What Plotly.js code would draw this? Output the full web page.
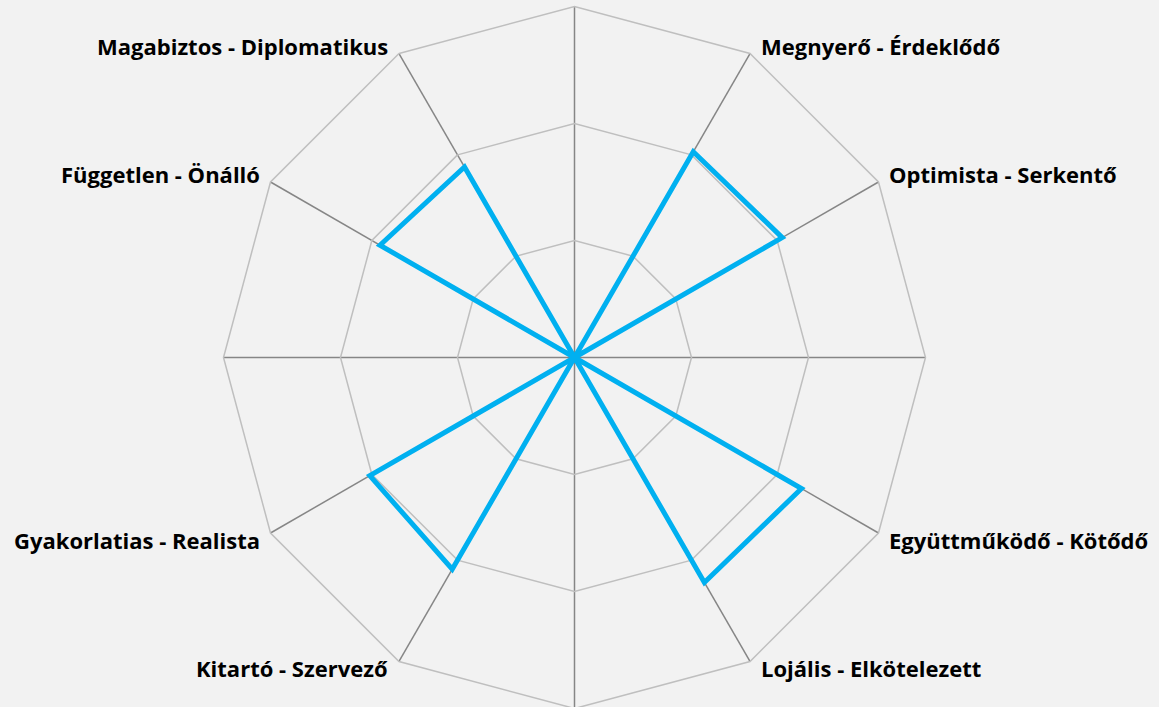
<!DOCTYPE html>
<html>
<head>
<meta charset="utf-8">
<script src="https://cdn.plot.ly/plotly-3.0.1.min.js"></script>
<style>
html,body{margin:0;padding:0;background:#f2f2f2;overflow:hidden;}
#chart{width:1159px;height:709px;}
</style>
</head>
<body>
<div id="chart"></div>
<script>
// Axis labels (cardinal spokes carry no label)
const axisLabels = ['', 'Megnyerő - Érdeklődő', 'Optimista - Serkentő', '', 'Együttműködő - Kötődő', 'Lojális - Elkötelezett', '', 'Kitartó - Szervező', 'Gyakorlatias - Realista', '', 'Független - Önálló', 'Magabiztos - Diplomatikus'];
// Series values
const values = [0, 2.03, 2.05, 0, 2.24, 2.22, 0, 2.09, 2.02, 0, 1.92, 1.88];
// Radial grid levels
const radialTicks = [1, 2, 3];

const W = 1159, H = 709;
const cx = 574.5, cy = 357.5, R = 351;   // polar area geometry (pixels)

const keys = axisLabels.map((l, i) => 'k' + i);
const thetaClosed = keys.concat([keys[0]]);
const rClosed = values.concat([values[0]]);

const trace = {
  type: 'scatterpolar',
  mode: 'lines',
  theta: thetaClosed,
  r: rClosed,
  line: {color: '#00b0f0', width: 5},
  hoverinfo: 'skip',
  showlegend: false
};

// Category labels placed beside the end of each spoke
const annotations = [];
axisLabels.forEach((label, i) => {
  if (!label) return;
  const ang = i * 2 * Math.PI / axisLabels.length;
  const s = Math.sin(ang), c = Math.cos(ang);
  const ex = cx + R * s, ey = cy - R * c;
  const px = ex + (s > 0 ? 10 : -10);
  const py = ey + (c > 0 ? -8 : 7);
  annotations.push({
    text: label,
    xref: 'paper', yref: 'paper',
    x: px / W, y: (H - py) / H,
    xanchor: s > 0 ? 'left' : 'right',
    yanchor: 'middle',
    showarrow: false,
    borderpad: 0,
    font: {family: '"Open Sans", sans-serif', size: 22, color: '#000000', weight: 'bold'}
  });
});

const layout = {
  width: W,
  height: H,
  margin: {l: 0, r: 0, t: 0, b: 0},
  paper_bgcolor: '#f2f2f2',
  plot_bgcolor: '#f2f2f2',
  showlegend: false,
  annotations: annotations,
  polar: {
    domain: {x: [(cx - R) / W, (cx + R) / W], y: [(H - cy - R) / H, (H - cy + R) / H]},
    bgcolor: '#f2f2f2',
    gridshape: 'linear',
    radialaxis: {
      range: [0, 3],
      tickmode: 'array',
      tickvals: radialTicks,
      showticklabels: false,
      ticks: '',
      showline: false,
      gridcolor: '#bfbfbf',
      gridwidth: 1.5
    },
    angularaxis: {
      type: 'category',
      categoryorder: 'array',
      categoryarray: keys,
      direction: 'clockwise',
      rotation: 90,
      ticks: '',
      showticklabels: false,
      showline: true,
      linecolor: '#bfbfbf',
      linewidth: 1.5,
      gridcolor: '#868686',
      gridwidth: 1.5
    }
  }
};

Plotly.newPlot('chart', [trace], layout, {displayModeBar: false, staticPlot: true});
</script>
</body>
</html>
